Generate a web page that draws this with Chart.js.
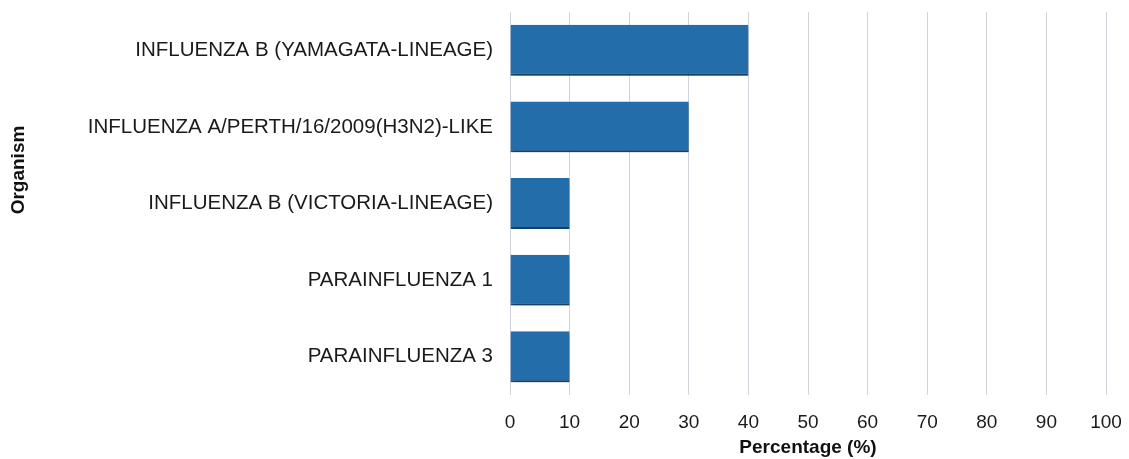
<!DOCTYPE html>
<html>
<head>
<meta charset="utf-8">
<script src="https://cdn.jsdelivr.net/npm/chart.js@4"></script>
<style>
  html, body { margin: 0; padding: 0; background: #fff; }
  #wrap { width: 1129px; height: 459px; }
</style>
</head>
<body>
<div id="wrap"><canvas id="orgChart"></canvas></div>
<script>
// data
const organisms = [
  'INFLUENZA B (YAMAGATA-LINEAGE)',
  'INFLUENZA A/PERTH/16/2009(H3N2)-LIKE',
  'INFLUENZA B (VICTORIA-LINEAGE)',
  'PARAINFLUENZA 1',
  'PARAINFLUENZA 3'
];
const percentages = [40, 30, 10, 10, 10];
const xTicks = [0, 10, 20, 30, 40, 50, 60, 70, 80, 90, 100];
const yTitle = 'Organism';
const xTitle = 'Percentage (%)';

const font = "'Liberation Sans', Arial, sans-serif";

// soft gray shadow under the bars, like the original
const barShadow = {
  id: 'barShadow',
  beforeDatasetsDraw(chart) {
    const c = chart.ctx;
    c.save();
    c.shadowColor = 'rgba(0, 0, 0, 0.3)';
    c.shadowBlur = 4;
    c.shadowOffsetX = 1;
    c.shadowOffsetY = 4;
  },
  afterDatasetsDraw(chart) {
    chart.ctx.restore();
  }
};

// y title sits a bit above the plot middle in the original
const yTitlePlugin = {
  id: 'yTitlePlugin',
  afterDraw(chart) {
    const c = chart.ctx;
    c.save();
    c.translate(19, 170);
    c.rotate(-Math.PI / 2);
    c.font = "bold 19px " + font;
    c.fillStyle = '#111';
    c.textAlign = 'center';
    c.textBaseline = 'middle';
    c.fillText(yTitle, 0, 0);
    c.restore();
  }
};

const ctx = document.getElementById('orgChart').getContext('2d');

new Chart(ctx, {
  type: 'bar',
  data: {
    labels: organisms,
    datasets: [{
      label: xTitle,
      data: percentages,
      backgroundColor: '#236dab',
      borderColor: '#1b578e',
      borderWidth: { top: 0, left: 0, right: 0, bottom: 2 },
      categoryPercentage: 1,
      barPercentage: 0.665
    }]
  },
  options: {
    indexAxis: 'y',
    responsive: true,
    maintainAspectRatio: false,
    animation: false,
    layout: { padding: { top: 12, right: 23, bottom: 0, left: 0 } },
    scales: {
      x: {
        min: 0,
        max: 100,
        afterBuildTicks: scale => { scale.ticks = xTicks.map(v => ({ value: v })); },
        afterFit: scale => {
          scale.height = 64;
          scale.paddingLeft = 0;
          scale.paddingRight = 0;
        },
        grid: { color: '#d2d2da', lineWidth: 1, drawTicks: false },
        border: { display: false },
        ticks: { color: '#1a1a1a', padding: 16, font: { family: font, size: 19 } },
        title: {
          display: true,
          text: xTitle,
          color: '#111',
          padding: { top: 4, bottom: 0 },
          font: { family: font, size: 19, weight: 'bold' }
        }
      },
      y: {
        grid: { display: false, drawTicks: false },
        border: { display: false },
        afterFit: scale => {
          scale.width = 510;
          scale.paddingTop = 0;
          scale.paddingBottom = 0;
        },
        ticks: { color: '#1a1a1a', padding: 17, font: { family: font, size: 20.5 } }
      }
    },
    plugins: {
      legend: { display: false },
      tooltip: { enabled: false }
    }
  },
  plugins: [barShadow, yTitlePlugin]
});
</script>
</body>
</html>
